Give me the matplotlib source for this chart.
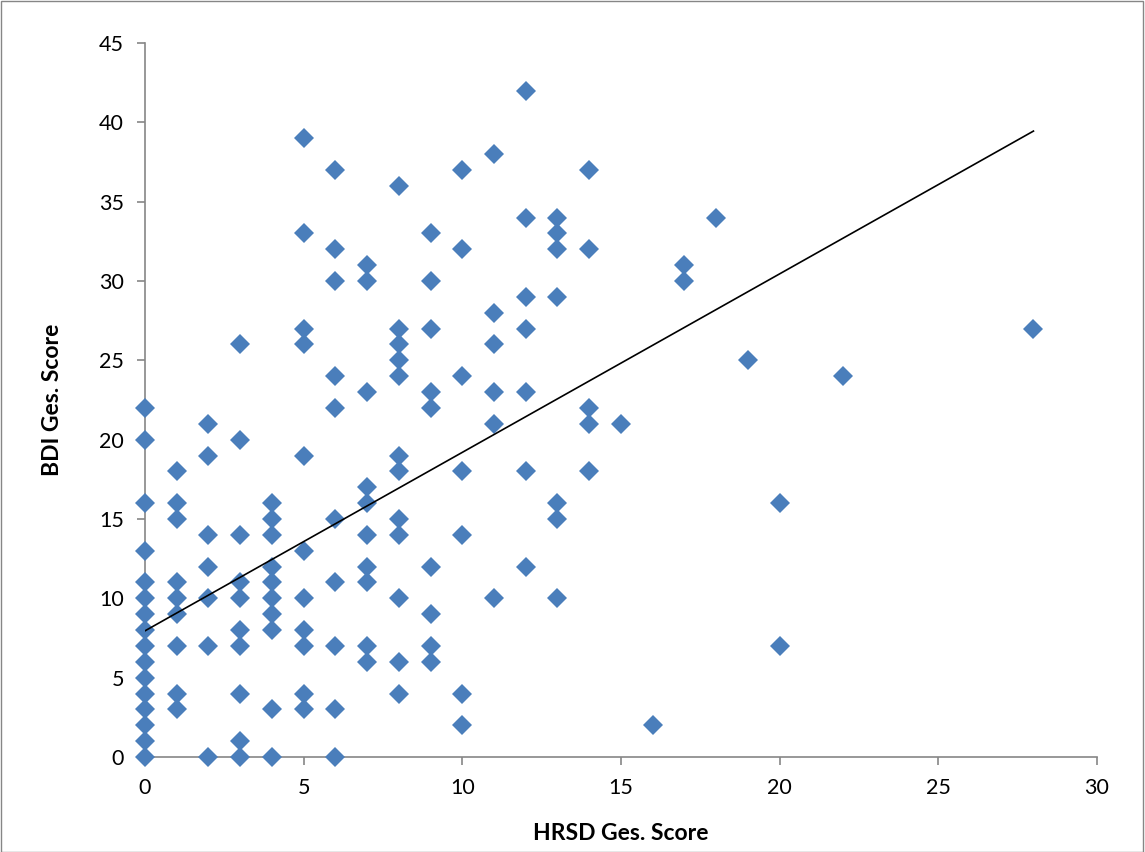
#!/usr/bin/env python3
import numpy as np
import matplotlib
matplotlib.use('Agg')
import matplotlib.pyplot as plt
from matplotlib.patches import Rectangle

# HRSD score -> list of BDI scores
bdi_by_hrsd = {
    0: [0, 1, 2, 3, 4, 5, 6, 7, 8, 9, 10, 11, 13, 16, 20, 22],
    1: [3, 4, 7, 9, 10, 11, 15, 16, 18],
    2: [0, 7, 10, 12, 14, 19, 21],
    3: [0, 1, 4, 7, 8, 10, 11, 14, 20, 26],
    4: [0, 3, 8, 9, 10, 11, 12, 14, 15, 16],
    5: [3, 4, 7, 8, 10, 13, 19, 26, 27, 33, 39],
    6: [0, 3, 7, 11, 15, 22, 24, 30, 32, 37],
    7: [6, 7, 11, 12, 14, 16, 17, 23, 30, 31],
    8: [4, 6, 10, 14, 15, 18, 19, 24, 25, 26, 27, 36],
    9: [6, 7, 9, 12, 22, 23, 27, 30, 33],
    10: [2, 4, 14, 18, 24, 32, 37],
    11: [10, 21, 23, 26, 28, 38],
    12: [12, 18, 23, 27, 29, 34, 42],
    13: [10, 15, 16, 29, 32, 33, 34],
    14: [18, 21, 22, 32, 37],
    15: [21],
    16: [2],
    17: [30, 31],
    18: [34],
    19: [25],
    20: [7, 16],
    22: [24],
    28: [27],
}

# trend line as shown in the chart (many points overlap, so a refit differs)
trend_intercept = 7.95
trend_slope = 1.125

hrsd = []
bdi = []
for k, vals in bdi_by_hrsd.items():
    for v in vals:
        hrsd.append(k)
        bdi.append(v)
hrsd = np.array(hrsd)
bdi = np.array(bdi)

x_ticks = [0, 5, 10, 15, 20, 25, 30]
y_ticks = [0, 5, 10, 15, 20, 25, 30, 35, 40, 45]

FONT = 'Lato'
GRAY = '#868686'

def main():
    fig = plt.figure(figsize=(11.45, 8.52), dpi=100)
    ax = fig.add_axes([0.1266, 0.1115, 0.958 - 0.1266, 0.9495 - 0.1115])

    ax.plot(hrsd, bdi, linestyle='none', marker='D', markersize=10,
            color='#4A7EBB', markeredgewidth=0, clip_on=False, zorder=3)

    xs = np.array([hrsd.min(), hrsd.max()])
    ax.plot(xs, trend_intercept + trend_slope * xs, color='black', lw=1.2,
            zorder=4)

    ax.set_xlim(0, 30)
    ax.set_ylim(0, 45)
    ax.set_xticks(x_ticks)
    ax.set_yticks(y_ticks)
    ax.tick_params(axis='both', direction='out', length=6, width=1.2,
                   color=GRAY, labelsize=15.5, pad=9)
    for lab in ax.get_xticklabels() + ax.get_yticklabels():
        lab.set_family(FONT)
    for side in ['top', 'right']:
        ax.spines[side].set_visible(False)
    for side in ['left', 'bottom']:
        ax.spines[side].set_color(GRAY)
        ax.spines[side].set_linewidth(1.2)

    ax.set_xlabel('HRSD Ges. Score', family=FONT, fontsize=16.5,
                  fontweight='bold', labelpad=18)
    ax.set_ylabel('BDI Ges. Score', family=FONT, fontsize=16.5,
                  fontweight='bold', labelpad=26)

    # chart area border
    fig.patches.append(Rectangle((0.0005, 0.0005), 0.998, 0.998,
                                 transform=fig.transFigure, fill=False,
                                 edgecolor=GRAY, lw=1))

    fig.savefig('out.png', dpi=100)

if __name__ == '__main__':
    main()
